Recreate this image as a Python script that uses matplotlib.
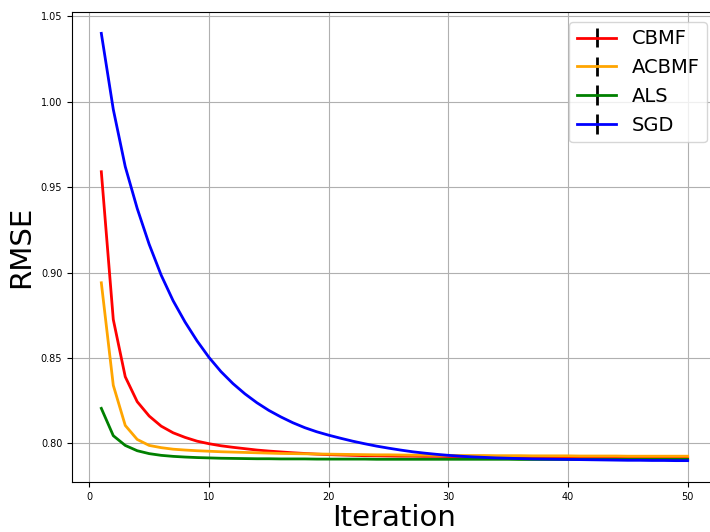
import numpy as np
import matplotlib
matplotlib.use("Agg")
import matplotlib.pyplot as plt

iterations = list(range(1, 51))

cbmf = [0.9590, 0.8725, 0.8390, 0.8244, 0.8160, 0.8101, 0.8062, 0.8035, 0.8013, 0.7998,
        0.7986, 0.7977, 0.7969, 0.7961, 0.7955, 0.7950, 0.7945, 0.7941, 0.7937, 0.7934,
        0.7932, 0.7930, 0.7928, 0.7927, 0.7926, 0.7925, 0.7925, 0.7924, 0.7924, 0.7923,
        0.7923, 0.7922, 0.7922, 0.7922, 0.7921, 0.7921, 0.7921, 0.7920, 0.7920, 0.7920,
        0.7920, 0.7919, 0.7919, 0.7919, 0.7919, 0.7919, 0.7918, 0.7918, 0.7918, 0.7918]

acbmf = [0.8940, 0.8340, 0.8105, 0.8023, 0.7988, 0.7975, 0.7966, 0.7961, 0.7957, 0.7954,
         0.7951, 0.7949, 0.7947, 0.7945, 0.7943, 0.7941, 0.7940, 0.7939, 0.7938, 0.7937,
         0.7936, 0.7935, 0.7934, 0.7933, 0.7933, 0.7932, 0.7931, 0.7931, 0.7930, 0.7930,
         0.7929, 0.7929, 0.7929, 0.7928, 0.7928, 0.7928, 0.7927, 0.7927, 0.7927, 0.7927,
         0.7926, 0.7926, 0.7926, 0.7926, 0.7925, 0.7925, 0.7925, 0.7925, 0.7925, 0.7925]

als = [0.8205, 0.8045, 0.7988, 0.7957, 0.7940, 0.7930, 0.7924, 0.7920, 0.7917, 0.7915,
       0.7913, 0.7912, 0.7911, 0.7910, 0.7910, 0.7909, 0.7909, 0.7909, 0.7908, 0.7908,
       0.7908, 0.7908, 0.7908, 0.7907, 0.7907, 0.7907, 0.7907, 0.7907, 0.7907, 0.7907,
       0.7907, 0.7907, 0.7907, 0.7907, 0.7907, 0.7906, 0.7906, 0.7906, 0.7906, 0.7906,
       0.7906, 0.7906, 0.7906, 0.7906, 0.7906, 0.7906, 0.7906, 0.7906, 0.7906, 0.7906]

sgd = [1.0400, 0.9955, 0.9620, 0.9375, 0.9165, 0.8985, 0.8835, 0.8710, 0.8600, 0.8503,
       0.8420, 0.8350, 0.8290, 0.8238, 0.8193, 0.8155, 0.8121, 0.8092, 0.8068, 0.8048,
       0.8030, 0.8013, 0.7998, 0.7984, 0.7972, 0.7961, 0.7951, 0.7943, 0.7936, 0.7930,
       0.7925, 0.7921, 0.7918, 0.7915, 0.7913, 0.7911, 0.7909, 0.7908, 0.7907, 0.7906,
       0.7905, 0.7904, 0.7903, 0.7902, 0.7901, 0.7901, 0.7900, 0.7900, 0.7899, 0.7899]

errors = [0.0] * 50

series = [("CBMF", cbmf, "red"), ("ACBMF", acbmf, "orange"),
          ("ALS", als, "green"), ("SGD", sgd, "blue")]

fig = plt.figure(figsize=(7.10, 5.32), dpi=100)
ax = fig.add_axes([72 / 710, 50 / 532, (717 - 72) / 710, 470 / 532])

for name, vals, color in series:
    ax.errorbar(iterations, vals, yerr=errors, color=color, ecolor="black",
                linewidth=2, label=name)

ax.grid(True, color="#b0b0b0", linewidth=0.8)
ax.set_xticks([0, 10, 20, 30, 40, 50])
ax.set_yticks([0.80, 0.85, 0.90, 0.95, 1.00, 1.05])
ax.tick_params(labelsize=7)
ax.set_xlabel("Iteration", fontsize=21, labelpad=2)
ax.set_ylabel("RMSE", fontsize=21)
ax.legend(loc="upper right", fontsize=14)

fig.savefig("out.png", dpi=100)
